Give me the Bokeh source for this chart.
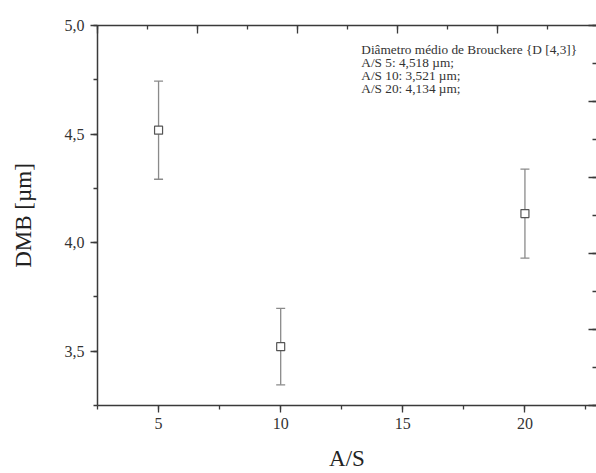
from bokeh.plotting import figure
from bokeh.models import (ColumnDataSource, Whisker, TeeHead, LinearAxis, Range1d,
                          SingleIntervalTicker, CustomJSTickFormatter, Label)
from bokeh.embed import file_html
from bokeh.resources import INLINE

# Mean De Brouckere diameter D[4,3] for each A/S ratio
ratio = [5, 10, 20]
dmb = [4.518, 3.521, 4.134]
dmb_err = [0.226, 0.176, 0.205]

title_line = "Diâmetro médio de Brouckere {D [4,3]}"

SERIF = "Liberation Serif"
AXIS_COLOR = "#3a3a3a"
BAR_COLOR = "#8a8a8a"

src = ColumnDataSource(dict(
    x=ratio,
    y=dmb,
    upper=[v + e for v, e in zip(dmb, dmb_err)],
    lower=[v - e for v, e in zip(dmb, dmb_err)],
))

p = figure(width=596, height=473, output_backend="svg", toolbar_location=None,
           x_range=Range1d(2.5, 22.93), y_range=Range1d(3.25, 5.0),
           min_border_left=97, min_border_right=0, min_border_top=25,
           min_border_bottom=67)
p.outline_line_color = None
p.grid.visible = False
p.background_fill_color = "white"
p.border_fill_color = "white"

# bottom axis
xa = p.xaxis[0]
xa.ticker = SingleIntervalTicker(interval=5, num_minor_ticks=2)
xa.axis_label = "A/S"
# left axis
ya = p.yaxis[0]
ya.ticker = SingleIntervalTicker(interval=0.5, num_minor_ticks=2)
ya.formatter = CustomJSTickFormatter(code="return tick.toFixed(1).replace('.', ',');")
ya.axis_label = "DMB [µm]"

for ax in (xa, ya):
    ax.axis_line_color = AXIS_COLOR
    ax.axis_line_width = 1.5
    ax.major_tick_line_color = AXIS_COLOR
    ax.minor_tick_line_color = AXIS_COLOR
    ax.major_tick_line_width = 1.3
    ax.minor_tick_line_width = 1.3
    ax.major_tick_in = 0
    ax.minor_tick_in = 0
    ax.major_tick_out = 7
    ax.minor_tick_out = 4
    ax.major_label_text_font = SERIF
    ax.major_label_text_font_size = "16px"
    ax.major_label_text_color = "#333333"
    ax.axis_label_text_font = SERIF
    ax.axis_label_text_font_size = "23px"
    ax.axis_label_text_font_style = "normal"
    ax.axis_label_text_color = "#222222"

xa.major_label_standoff = 5
xa.axis_label_standoff = 14
ya.major_label_standoff = 6
ya.axis_label_standoff = 26

# frame axes on top and right: inward ticks only, no labels
p.extra_x_ranges = {"top": Range1d(0, 9.98)}
p.extra_y_ranges = {"right": Range1d(0, 10)}
top_axis = LinearAxis(x_range_name="top")
right_axis = LinearAxis(y_range_name="right")
for ax in (top_axis, right_axis):
    ax.ticker = SingleIntervalTicker(interval=2, num_minor_ticks=2)
    ax.major_label_text_font_size = "0px"
    ax.major_label_text_alpha = 0
    ax.major_label_standoff = 0
    ax.major_tick_out = 0
    ax.minor_tick_out = 0
    ax.major_tick_in = 8
    ax.minor_tick_in = 4
    ax.major_tick_line_color = AXIS_COLOR
    ax.minor_tick_line_color = AXIS_COLOR
    ax.major_tick_line_width = 1.3
    ax.minor_tick_line_width = 1.3
    ax.axis_line_color = AXIS_COLOR
    ax.axis_line_width = 1.5
    ax.major_label_overrides = {i: "" for i in range(0, 11, 2)}
    ax.formatter = CustomJSTickFormatter(code="return '';")
right_axis.axis_line_color = None
p.add_layout(top_axis, "above")
p.add_layout(right_axis, "right")

# error bars under the markers
wh = Whisker(source=src, base="x", upper="upper", lower="lower",
             line_color=BAR_COLOR, line_width=1.3, level="underlay",
             upper_head=TeeHead(size=9, line_color=BAR_COLOR, line_width=1.3),
             lower_head=TeeHead(size=9, line_color=BAR_COLOR, line_width=1.3))
p.add_layout(wh)

p.scatter("x", "y", source=src, marker="square", size=8,
          fill_color="white", line_color="#555555", line_width=1.2)

# annotation block listing the values
lines = [title_line] + [
    f"A/S {r}: {v:.3f}".replace(".", ",") + " µm;" for r, v in zip(ratio, dmb)
]
y0 = 4.89
step = 0.06
for i, t in enumerate(lines):
    p.add_layout(Label(x=13.3, y=y0 - i * step, text=t, text_font=SERIF,
                       text_font_size="13.3px", text_color="#333333",
                       text_baseline="middle", text_align="left"))

open("out.html", "w").write(file_html(p, INLINE))
